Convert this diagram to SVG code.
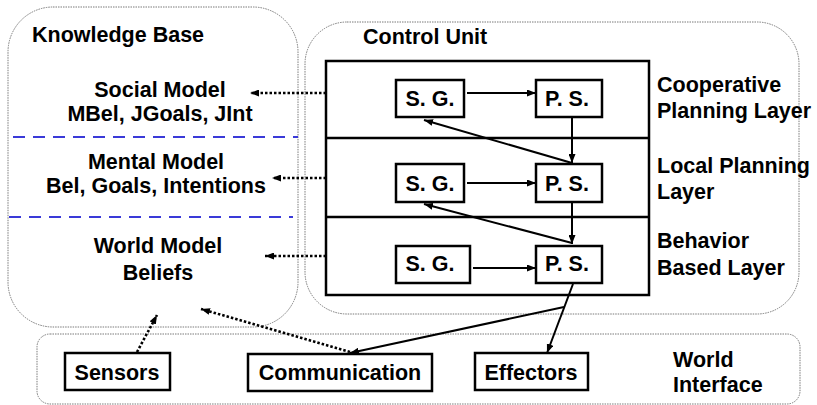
<svg xmlns="http://www.w3.org/2000/svg" width="817" height="405" viewBox="0 0 817 405">
<defs>
<style>
text{font-family:"Liberation Sans",Arial,sans-serif;font-weight:bold;font-size:21.5px;fill:#000}
.c{text-anchor:middle}
.region{fill:none;stroke:#7a7a7a;stroke-width:1;stroke-dasharray:1.5 1}
.box{fill:#fff;stroke:#000;stroke-width:2.5}
.sep{fill:none;stroke:#3a3ad8;stroke-width:2;stroke-dasharray:12 8}
.solid{fill:none;stroke:#000;stroke-width:2}
.dot{fill:none;stroke:#000;stroke-width:2.6;stroke-dasharray:2.5 2}
</style>
<marker id="ah" viewBox="0 0 9 7" refX="9" refY="3.5" markerWidth="9" markerHeight="7" markerUnits="userSpaceOnUse" orient="auto"><path d="M0,0 L9,3.5 L0,7 z" fill="#000"/></marker>
</defs>
<rect width="817" height="405" fill="#fff"/>

<g id="knowledge-base">
<rect class="region" x="8" y="7" width="290" height="320" rx="45" ry="45"/>
<text x="32" y="42">Knowledge Base</text>
<text class="c" x="160" y="97">Social Model</text>
<text class="c" x="160" y="121">MBel, JGoals, JInt</text>
<line class="sep" x1="13" y1="137" x2="298" y2="137"/>
<text class="c" x="156" y="169">Mental Model</text>
<text class="c" x="156" y="193">Bel, Goals, Intentions</text>
<line class="sep" x1="9" y1="217" x2="293" y2="217"/>
<text class="c" x="158" y="253">World Model</text>
<text class="c" x="158" y="280">Beliefs</text>
</g>

<g id="control-unit">
<rect class="region" x="305" y="22" width="494" height="292" rx="42" ry="42"/>
<text x="363" y="44">Control Unit</text>
<rect class="box" x="326" y="61" width="323" height="234" fill="none"/>
<line x1="326" y1="138" x2="649" y2="138" stroke="#000" stroke-width="2.5"/>
<line x1="326" y1="217" x2="649" y2="217" stroke="#000" stroke-width="2.5"/>
<text x="657" y="92">Cooperative</text>
<text x="657" y="118">Planning Layer</text>
<text x="657" y="173">Local Planning</text>
<text x="657" y="199">Layer</text>
<text x="657" y="248">Behavior</text>
<text x="657" y="275">Based Layer</text>
</g>

<g id="sg1"><rect class="box" x="396" y="80" width="68" height="37"/><text class="c" x="430" y="106">S. G.</text></g>
<g id="ps1"><rect class="box" x="536" y="80" width="66" height="37"/><text class="c" x="567" y="106">P. S.</text></g>
<g id="sg2"><rect class="box" x="396" y="164" width="68" height="38"/><text class="c" x="430" y="191">S. G.</text></g>
<g id="ps2"><rect class="box" x="536" y="164" width="66" height="38"/><text class="c" x="567" y="191">P. S.</text></g>
<g id="sg3"><rect class="box" x="396" y="246" width="74" height="37"/><text class="c" x="430" y="271">S. G.</text></g>
<g id="ps3"><rect class="box" x="536" y="246" width="66" height="37"/><text class="c" x="567" y="271">P. S.</text></g>

<g id="world-interface">
<rect class="region" x="37" y="334" width="763" height="70" rx="13" ry="13"/>
<text x="673" y="367">World</text>
<text x="673" y="392">Interface</text>
</g>
<g id="sensors"><rect class="box" x="65" y="353" width="105" height="37"/><text class="c" x="117" y="380">Sensors</text></g>
<g id="communication"><rect class="box" x="248" y="354" width="184" height="37"/><text class="c" x="340" y="380">Communication</text></g>
<g id="effectors"><rect class="box" x="475" y="353" width="113" height="37"/><text class="c" x="531" y="380">Effectors</text></g>

<g id="connectors">
<line class="solid" x1="467" y1="93" x2="536" y2="93" marker-end="url(#ah)"/>
<line class="solid" x1="467" y1="183" x2="536" y2="183" marker-end="url(#ah)"/>
<line class="solid" x1="473" y1="268" x2="536" y2="268" marker-end="url(#ah)"/>
<line class="solid" x1="572" y1="118" x2="572" y2="163" marker-end="url(#ah)"/>
<line class="solid" x1="572" y1="203" x2="572" y2="244" marker-end="url(#ah)"/>
<line class="solid" x1="572" y1="163" x2="424" y2="120" marker-end="url(#ah)"/>
<line class="solid" x1="572" y1="243" x2="424" y2="204" marker-end="url(#ah)"/>
<line class="solid" x1="573" y1="284" x2="547" y2="353" marker-end="url(#ah)"/>
<line class="solid" x1="564" y1="307" x2="350" y2="353" marker-end="url(#ah)"/>
<line class="dot" x1="326" y1="93" x2="250" y2="93" marker-end="url(#ah)"/>
<line class="dot" x1="326" y1="178" x2="272" y2="178" marker-end="url(#ah)"/>
<line class="dot" x1="326" y1="256" x2="265" y2="256" marker-end="url(#ah)"/>
<line class="dot" x1="137" y1="352" x2="157" y2="315" marker-end="url(#ah)"/>
<line class="dot" x1="350" y1="352" x2="201" y2="309" marker-end="url(#ah)"/>
</g>
</svg>
